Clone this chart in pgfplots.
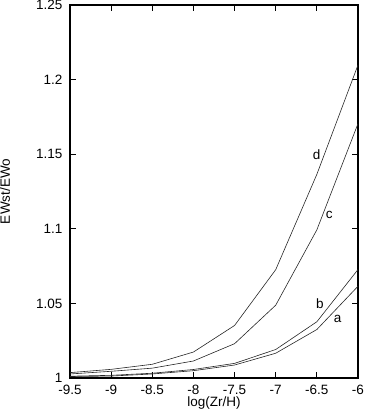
\documentclass[border=0pt]{standalone}
\usepackage{pgfplots}
\pgfplotsset{compat=1.18}
\usepackage{fontspec}
\setmainfont{Liberation Sans}
\newcommand{\lbl}{\fontsize{13.5}{15}\selectfont}
\begin{document}
\begin{tikzpicture}
\begin{axis}[
    at={(0,0)}, anchor=south west,
    scale only axis,
    width=288pt, height=373pt,
    xmin=-9.5, xmax=-6, ymin=1, ymax=1.25,
    xtick={-9.5,-9,-8.5,-8,-7.5,-7,-6.5,-6},
    xticklabels={-9.5,-9,-8.5,-8,-7.5,-7,-6.5,-6},
    ytick={1,1.05,1.1,1.15,1.2,1.25},
    yticklabels={1,1.05,1.1,1.15,1.2,1.25},
    xtick pos=both, ytick pos=both,
    tick align=inside,
    major tick length=6pt,
    axis line style={line width=1.1pt},
    tick style={line width=1.1pt, black},
    ticklabel style={font=\lbl, inner sep=0pt},
    xticklabel style={anchor=base, yshift=-16pt},
    yticklabel style={anchor=east, xshift=-7.5pt},
    xlabel={log(Zr/H)}, ylabel={EWst/EWo},
    label style={font=\lbl, inner sep=0pt},
    xlabel style={at={(axis description cs:0.5,-0.0775)}, anchor=base},
    ylabel style={at={(axis description cs:-0.2257,0.5)}, anchor=center},
]
\addplot[black!85, line width=0.6pt] coordinates {
    (-9.5,1.0010) (-9,1.0013) (-8.5,1.0027) (-8,1.0049)
    (-7.5,1.0087) (-7,1.0166) (-6.5,1.0325) (-6,1.0615)};
\addplot[black!85, line width=0.6pt] coordinates {
    (-9.5,1.0012) (-9,1.0018) (-8.5,1.0032) (-8,1.0057)
    (-7.5,1.0098) (-7,1.0191) (-6.5,1.0377) (-6,1.0727)};
\addplot[black!85, line width=0.6pt] coordinates {
    (-9.5,1.0027) (-9,1.0045) (-8.5,1.0066) (-8,1.0114)
    (-7.5,1.0230) (-7,1.0488) (-6.5,1.0993) (-6,1.1705)};
\addplot[black!85, line width=0.6pt] coordinates {
    (-9.5,1.0036) (-9,1.0058) (-8.5,1.0092) (-8,1.0174)
    (-7.5,1.0352) (-7,1.0726) (-6.5,1.1365) (-6,1.2098)};
\node[font=\lbl] at (axis cs:-6.247,1.0393) {a};
\node[font=\lbl] at (axis cs:-6.462,1.0496) {b};
\node[font=\lbl] at (axis cs:-6.349,1.1092) {c};
\node[font=\lbl] at (axis cs:-6.502,1.1495) {d};
\end{axis}
\pgfresetboundingbox
\useasboundingbox (-70pt,-36pt) rectangle (294pt,378pt);
\end{tikzpicture}
\end{document}
